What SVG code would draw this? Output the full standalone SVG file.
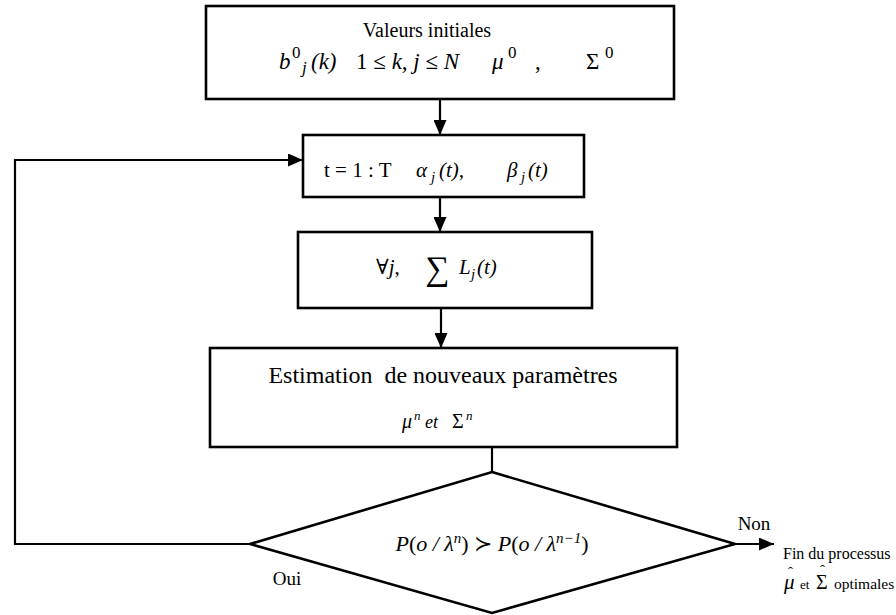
<svg xmlns="http://www.w3.org/2000/svg" width="896" height="615" viewBox="0 0 896 615" font-family="'Liberation Serif', 'Times New Roman', 'DejaVu Serif', serif">
<style>
.box{fill:#fff;stroke:#000;stroke-width:2.6}
.ln{fill:none;stroke:#000;stroke-width:2.2}
.t{font-family:'Liberation Serif','Times New Roman','DejaVu Serif',serif;fill:#000}
.i{font-style:italic}
</style>
<defs>
<marker id="ah" markerWidth="15" markerHeight="13" refX="15" refY="6.5" orient="auto" markerUnits="userSpaceOnUse">
<path d="M0,0 L15,6.5 L0,13 Z" fill="#000"/>
</marker>
</defs>
<rect width="896" height="615" fill="#fff"/>
<g id="connectors">
<line class="ln" x1="440" y1="99" x2="440" y2="135" marker-end="url(#ah)"/>
<line class="ln" x1="440" y1="197" x2="440" y2="232" marker-end="url(#ah)"/>
<line class="ln" x1="441" y1="308" x2="441" y2="348" marker-end="url(#ah)"/>
<line class="ln" x1="492" y1="447" x2="492" y2="472"/>
<polyline class="ln" points="250,544 15,544 15,160 303,160" marker-end="url(#ah)"/>
<line class="ln" x1="735" y1="544" x2="774" y2="544" marker-end="url(#ah)"/>
<text class="t" x="754" y="530" font-size="19" text-anchor="middle">Non</text>
<text class="t" x="287" y="585" font-size="19" text-anchor="middle">Oui</text>
</g>
<g id="n1">
<rect class="box" x="206" y="6" width="468" height="93"/>
<text class="t" x="427" y="37" font-size="20" text-anchor="middle">Valeurs initiales</text>
<text class="t i" y="69" font-size="23"><tspan x="279">b</tspan><tspan font-style="normal" x="292" dy="-11" font-size="17">0</tspan><tspan x="302" dy="15" font-size="17">j</tspan><tspan x="311" dy="-4">(k)</tspan><tspan font-style="normal" x="356">1 ≤ </tspan><tspan>k, j </tspan><tspan font-style="normal">≤ </tspan><tspan>N</tspan><tspan x="492">μ</tspan><tspan font-style="normal" x="508" dy="-11" font-size="17">0</tspan><tspan font-style="normal" x="535" dy="11">,</tspan><tspan font-style="normal" x="586">Σ</tspan><tspan font-style="normal" x="605" dy="-11" font-size="17">0</tspan></text>
</g>
<g id="n2">
<rect class="box" x="303" y="135" width="281" height="62"/>
<text class="t" y="177" font-size="21"><tspan x="324">t = 1 : T</tspan><tspan font-style="italic" x="416">α</tspan><tspan x="431" dy="5" font-size="15" font-style="italic">j</tspan><tspan x="439" dy="-5" font-style="italic">(t),</tspan><tspan x="507" font-style="italic">β</tspan><tspan x="521" dy="5" font-size="15" font-style="italic">j</tspan><tspan x="528" dy="-5" font-style="italic">(t)</tspan></text>
</g>
<g id="n3">
<rect class="box" x="298" y="232" width="294" height="76"/>
<text class="t" y="274" font-size="21"><tspan x="376">∀</tspan><tspan font-style="italic">j</tspan><tspan>,</tspan><tspan x="425" font-size="34" dy="6">∑</tspan><tspan x="459" dy="-6" font-style="italic">L</tspan><tspan x="471" dy="5" font-size="15" font-style="italic">j</tspan><tspan x="477" dy="-5" font-style="italic">(t)</tspan></text>
</g>
<g id="n4">
<rect class="box" x="210" y="348" width="467" height="99"/>
<text class="t" x="443" y="383" font-size="24" text-anchor="middle" xml:space="preserve">Estimation  de nouveaux paramètres</text>
<text class="t i" y="428" font-size="20"><tspan x="402">μ</tspan><tspan x="414" dy="-8" font-size="13">n</tspan><tspan x="425" dy="8" font-size="18">et</tspan><tspan font-style="normal" x="452">Σ</tspan><tspan x="466" dy="-8" font-size="13">n</tspan></text>
</g>
<g id="n5">
<polygon class="box" points="492,472 735,544 492,613 250,544"/>
<text class="t i" y="551" font-size="22" text-anchor="middle" x="492"><tspan>P</tspan><tspan font-style="normal">(</tspan><tspan>o / λ</tspan><tspan dy="-8" font-size="15">n</tspan><tspan dy="8" font-style="normal">) ≻ </tspan><tspan>P</tspan><tspan font-style="normal">(</tspan><tspan>o / λ</tspan><tspan dy="-8" font-size="15">n−1</tspan><tspan dy="8" font-style="normal">)</tspan></text>
</g>
<g id="n6">
<text class="t" x="783" y="559" font-size="16">Fin du processus</text>
<text class="t" font-size="15.5"><tspan class="i" x="784" y="589" font-size="21">μ</tspan><tspan x="788" y="577" font-size="15">ˆ</tspan><tspan x="800" y="589" font-size="13">et</tspan><tspan x="816" y="589" font-size="20">Σ</tspan><tspan x="820" y="575" font-size="15">ˆ</tspan><tspan x="834" y="589">optimales</tspan></text>
</g>
</svg>
